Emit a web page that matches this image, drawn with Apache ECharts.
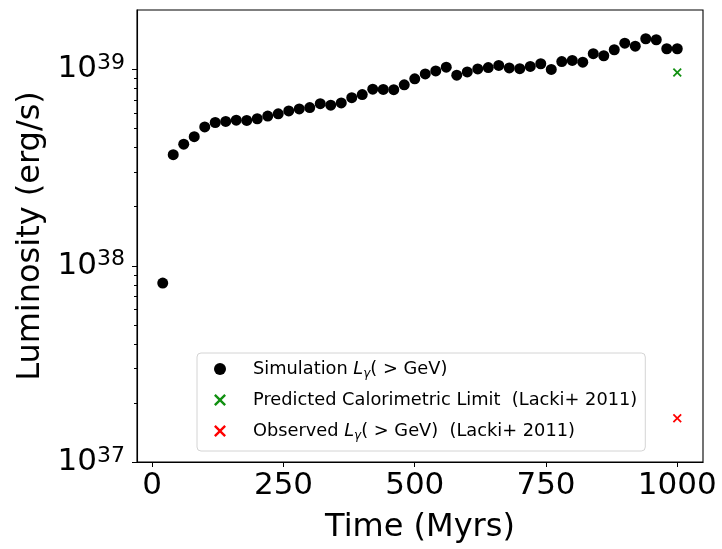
<!DOCTYPE html>
<html>
<head>
<meta charset="utf-8">
<script src="https://cdn.jsdelivr.net/npm/echarts@6/dist/echarts.min.js"></script>
<style>html,body{margin:0;padding:0;background:#fff}#c{width:722px;height:549px}</style>
</head>
<body>
<div id="c"></div>
<script>
// ---- data ----
var times = [20, 40, 60, 80, 100, 120, 140, 160, 180, 200, 220, 240, 260, 280, 300, 320, 340, 360, 380, 400,
             420, 440, 460, 480, 500, 520, 540, 560, 580, 600, 620, 640, 660, 680, 700, 720, 740, 760, 780, 800,
             820, 840, 860, 880, 900, 920, 940, 960, 980, 1000];
var simLum = [8.15e37, 3.67e38, 4.15e38, 4.53e38, 5.08e38, 5.35e38, 5.42e38, 5.50e38, 5.48e38, 5.59e38,
              5.77e38, 5.92e38, 6.13e38, 6.27e38, 6.37e38, 6.67e38, 6.55e38, 6.73e38, 7.16e38, 7.42e38,
              7.91e38, 7.88e38, 7.86e38, 8.32e38, 8.93e38, 9.45e38, 9.79e38, 1.023e39, 9.32e38, 9.68e38,
              1.002e39, 1.018e39, 1.045e39, 1.014e39, 1.005e39, 1.032e39, 1.065e39, 9.96e38, 1.092e39, 1.107e39,
              1.085e39, 1.198e39, 1.170e39, 1.255e39, 1.356e39, 1.308e39, 1.428e39, 1.411e39, 1.270e39, 1.270e39];
var caloTime = [1000];
var caloLum = [9.62e38];
var obsTime = [1000];
var obsLum = [1.67e37];
var xTicks = [0, 250, 500, 750, 1000];
var yMajorTicks = [1e37, 1e38, 1e39];
var yMinorTicks = [2e37, 3e37, 4e37, 5e37, 6e37, 7e37, 8e37, 9e37,
                   2e38, 3e38, 4e38, 5e38, 6e38, 7e38, 8e38, 9e38];
var seriesNames = ['Simulation', 'Predicted Calorimetric Limit  (Lacki+ 2011)', 'Observed'];

var X_MIN = -29, X_MAX = 1049, Y_MIN = 1e37, Y_MAX = 2e39;

function pairs(xs, ys) { return xs.map(function (x, i) { return [x, ys[i]]; }); }

var FONT = 'DejaVu Sans';
var crossPath = 'path://M0,1.4L1.4,0L5,3.6L8.6,0L10,1.4L6.4,5L10,8.6L8.6,10L5,6.4L1.4,10L0,8.6L3.6,5Z';

// y tick marks: [x at left edge, tick value, tick length]
var yTickData = yMajorTicks.map(function (v) { return [X_MIN, v, 5]; })
  .concat(yMinorTicks.map(function (v) { return [X_MIN, v, 3]; }));

var chart = echarts.init(document.getElementById('c'), null, {renderer: 'canvas'});
chart.setOption({
  animation: false,
  backgroundColor: '#ffffff',
  grid: {left: 137, top: 10, width: 566, height: 452, show: true, borderColor: '#000', borderWidth: 1.1, backgroundColor: 'transparent', containLabel: false},
  legend: {
    orient: 'vertical', left: 197, top: 353,
    padding: [5, 8, 9, 17],
    itemWidth: 12, itemHeight: 12, itemGap: 9,
    backgroundColor: '#fff', borderColor: '#d4d4d4', borderWidth: 1, borderRadius: 4,
    data: seriesNames,
    formatter: function (name) {
      if (name === 'Simulation') return 'Simulation {it|L}{sub|γ}( > GeV)';
      if (name === 'Observed') return 'Observed {it|L}{sub|γ}( > GeV)  (Lacki+ 2011)';
      return name;
    },
    textStyle: {
      fontFamily: FONT, fontSize: 17.8, color: '#000', lineHeight: 22, padding: [0, 0, 0, 22],
      rich: {
        it: {fontFamily: FONT, fontSize: 17.8, fontStyle: 'italic', color: '#000', lineHeight: 22},
        sub: {fontFamily: FONT, fontSize: 12, fontStyle: 'italic', color: '#000', verticalAlign: 'bottom', lineHeight: 15, padding: [7, 0, 0, 0]}
      }
    }
  },
  xAxis: {
    type: 'value', min: X_MIN, max: X_MAX,
    name: 'Time (Myrs)', nameLocation: 'middle', nameGap: 50,
    nameTextStyle: {fontFamily: FONT, fontSize: 32, color: '#000'},
    splitLine: {show: false},
    axisLine: {show: true, onZero: false, lineStyle: {color: '#000', width: 1.1}},
    axisTick: {show: true, length: 5, interval: 0, lineStyle: {color: '#000', width: 1}, customValues: xTicks},
    axisLabel: {fontFamily: FONT, fontSize: 31, color: '#000', margin: 8, interval: 0, customValues: xTicks,
      formatter: function (v) { return String(Math.round(v)); }}
  },
  yAxis: {
    type: 'log', min: Y_MIN, max: Y_MAX, position: 'left',
    splitLine: {show: false},
    axisLine: {show: true, onZero: false, lineStyle: {color: '#000', width: 1.1}},
    name: 'Luminosity (erg/s)', nameLocation: 'middle', nameGap: 88,
    nameTextStyle: {fontFamily: FONT, fontSize: 32, color: '#000'},
    axisTick: {show: false},
    axisLabel: {
      fontFamily: FONT, margin: 12, color: '#000', interval: 0, customValues: yMajorTicks,
      formatter: function (v) {
        var e = Math.round(Math.log(v) / Math.LN10);
        return '{b|10}{s|' + e + '}';
      },
      rich: {
        b: {fontFamily: FONT, fontSize: 31, color: '#000', lineHeight: 34},
        s: {fontFamily: FONT, fontSize: 22, color: '#000', verticalAlign: 'top', lineHeight: 22}
      }
    }
  },
  series: [
    {
      name: seriesNames[0], type: 'scatter', symbol: 'circle', symbolSize: 11,
      itemStyle: {color: '#000', opacity: 1}, data: pairs(times, simLum), z: 3
    },
    {
      name: seriesNames[1], type: 'scatter', symbol: crossPath, symbolSize: 9,
      itemStyle: {color: '#119011', opacity: 1}, data: pairs(caloTime, caloLum), z: 3
    },
    {
      name: seriesNames[2], type: 'scatter', symbol: crossPath, symbolSize: 9,
      itemStyle: {color: '#ff0000', opacity: 1}, data: pairs(obsTime, obsLum), z: 3
    },
    {
      name: 'yticks', type: 'custom', clip: false, silent: true, z: 5,
      data: yTickData,
      renderItem: function (params, api) {
        var p = api.coord([api.value(0), api.value(1)]);
        var len = api.value(2);
        var y = Math.round(p[1]) + 0.5;
        return {
          type: 'line',
          shape: {x1: p[0] - len, y1: y, x2: p[0], y2: y},
          style: {stroke: '#000', lineWidth: 1}
        };
      }
    }
  ]
});
</script>
</body>
</html>
